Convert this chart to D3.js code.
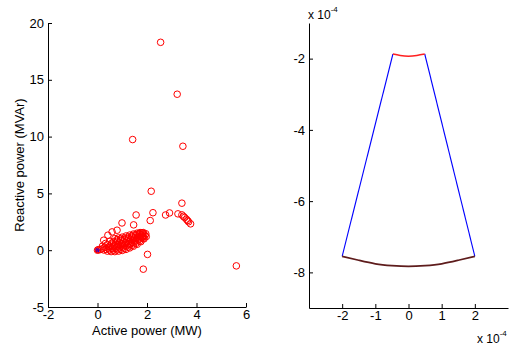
<!DOCTYPE html>
<html>
<head>
<meta charset="utf-8">
<script src="https://cdn.jsdelivr.net/npm/d3@7"></script>
<style>
  body { margin: 0; background: #fff; }
  text { font-family: "Liberation Sans", Arial, Helvetica, sans-serif; fill: #000; }
</style>
</head>
<body>
<svg id="chart" width="515" height="347"></svg>
<script>
// ---- Left panel: operating points (P in MW, Q in MVAr) ----
const activePower = [
  0.1, 0.18, 0.2,
  0.25, 0.4, 0.55, 0.7, 0.85, 1.0, 1.15, 1.3, 1.45, 1.6, 1.75, 1.88, 1.97,
  0.35, 0.5, 0.65, 0.8, 0.95, 1.1, 1.25, 1.4, 1.55, 1.7, 1.85,
  0.3, 0.45, 0.6, 0.75, 0.9, 1.05, 1.2, 1.35, 1.5, 1.65, 1.8, 1.92,
  0.48, 0.63, 0.78, 0.93, 1.08, 1.23, 1.38, 1.53, 1.68, 1.82,
  0.4, 0.55, 0.7, 0.85, 1.0, 1.15, 1.3, 1.45, 1.6, 1.75, 1.87,
  0.58, 0.73, 0.88, 1.03, 1.18, 1.33, 1.48, 1.63, 1.78,
  0.5, 0.65, 0.8, 0.95, 1.1, 1.25, 1.4, 1.55, 1.7, 1.82,
  0.78, 0.93, 1.08, 1.23, 1.38, 1.53, 1.68, 1.8,
  0.7, 0.85, 1.0, 1.15, 1.3, 1.45, 1.6, 1.72, 1.85, 1.95,
  0.32, 0.25, 0.42, 0.59, 0.79, 0.99, 1.46,
  1.56, 2.24, 2.13, 2.75, 2.91, 3.25, 3.41, 3.47, 3.52, 3.59, 3.64, 3.68, 3.76,
  2.17, 3.41, 1.42, 3.45, 3.22, 2.55, 2.02, 1.85, 5.61,
  0.03, 0.0
];
const reactivePower = [
  0.05, 0.12, 0.35,
  0.02, -0.08, -0.12, -0.12, -0.08, -0.02, 0.07, 0.2, 0.35, 0.52, 0.75, 1.0, 1.2,
  0.08, 0.02, 0.0, 0.03, 0.08, 0.16, 0.28, 0.42, 0.6, 0.8, 1.05,
  0.25, 0.18, 0.15, 0.17, 0.22, 0.3, 0.42, 0.56, 0.72, 0.9, 1.1, 1.3,
  0.32, 0.3, 0.32, 0.37, 0.45, 0.56, 0.68, 0.83, 1.0, 1.2,
  0.5, 0.45, 0.45, 0.5, 0.58, 0.68, 0.8, 0.94, 1.08, 1.25, 1.42,
  0.62, 0.6, 0.65, 0.72, 0.82, 0.94, 1.06, 1.2, 1.35,
  0.78, 0.75, 0.8, 0.87, 0.95, 1.05, 1.16, 1.28, 1.4, 1.5,
  0.92, 0.98, 1.06, 1.15, 1.25, 1.36, 1.46, 1.53,
  1.02, 1.08, 1.15, 1.25, 1.33, 1.42, 1.5, 1.55, 1.55, 1.45,
  0.59, 0.88, 1.32, 1.61, 1.76, 2.4, 2.23,
  3.1, 3.3, 2.61, 3.1, 3.28, 3.2, 3.11, 2.98, 2.88, 2.73, 2.61, 2.5, 2.32,
  5.19, 4.14, 9.74, 9.15, 13.73, 18.3, -0.37, -1.67, -1.38,
  0.04, 0.0
];
const originP = [0];
const originQ = [0];
const leftXTicks = [-2, 0, 2, 4, 6];
const leftYTicks = [-5, 0, 5, 10, 15, 20];

// ---- Right panel: sector boundary (values in units of 1e-4) ----
const innerArcX = [-0.47, -0.25, 0, 0.25, 0.49];
const innerArcY = [-1.87, -1.91, -1.93, -1.91, -1.87];
const outerArcX = [-2, -1.5, -1, -0.5, 0, 0.5, 1, 1.5, 2];
const outerArcY = [-7.55, -7.66, -7.76, -7.81, -7.83, -7.81, -7.76, -7.66, -7.55];
const leftEdgeX = [-0.47, -2];
const leftEdgeY = [-1.87, -7.55];
const rightEdgeX = [0.49, 2];
const rightEdgeY = [-1.87, -7.55];
const rightXTicks = [-2, -1, 0, 1, 2];
const rightYTicks = [-8, -6, -4, -2];

const svg = d3.select("#chart");
const FS = "13px";
const plain = d => String(d);   // hyphen-minus, like the original plotting tool

function styleAxis(g) {
  g.selectAll("path.domain").attr("stroke", "#000").attr("stroke-width", 1);
  g.selectAll(".tick line").attr("stroke", "#000");
  g.selectAll(".tick text").style("font-size", FS).attr("fill", "#000");
}

// ----- Left panel -----
const L = { x0: 48, x1: 246, y0: 23, y1: 307 };
const xL = d3.scaleLinear().domain([-2, 6]).range([L.x0, L.x1]);
const yL = d3.scaleLinear().domain([-5, 20]).range([L.y1, L.y0]);

svg.append("g").attr("transform", `translate(0,${L.y1})`)
  .call(d3.axisBottom(xL).tickValues(leftXTicks).tickFormat(plain)
    .tickSizeInner(-4).tickSizeOuter(0).tickPadding(3))
  .call(styleAxis);
svg.append("g").attr("transform", `translate(${L.x0},0)`)
  .call(d3.axisLeft(yL).tickValues(leftYTicks).tickFormat(plain)
    .tickSizeInner(-4).tickSizeOuter(0).tickPadding(4))
  .call(styleAxis);

svg.append("text")
  .attr("x", (L.x0 + L.x1) / 2).attr("y", 335)
  .attr("text-anchor", "middle").style("font-size", FS)
  .text("Active power (MW)");
svg.append("text")
  .attr("transform", `translate(24,${(L.y0 + L.y1) / 2}) rotate(-90)`)
  .attr("text-anchor", "middle").style("font-size", FS)
  .text("Reactive power (MVAr)");

const pts = svg.append("g");
pts.selectAll("circle.origin").data(originP).join("circle")
  .attr("class", "origin")
  .attr("cx", (d, i) => xL(d)).attr("cy", (d, i) => yL(originQ[i]))
  .attr("r", 2).attr("fill", "#0000ff").attr("stroke", "#0000ff").attr("stroke-width", 1);
pts.selectAll("circle.pt").data(activePower).join("circle")
  .attr("class", "pt")
  .attr("cx", d => xL(d)).attr("cy", (d, i) => yL(reactivePower[i]))
  .attr("r", 3.3).attr("fill", "none").attr("stroke", "#ff0000").attr("stroke-width", 1);

// ----- Right panel -----
const R = { x0: 309, x1: 508, y0: 23, y1: 308 };
const xR = d3.scaleLinear().domain([-3, 3]).range([R.x0, R.x1]);
const yR = d3.scaleLinear().domain([-9, -1]).range([R.y1, R.y0]);

svg.append("g").attr("transform", `translate(0,${R.y1})`)
  .call(d3.axisBottom(xR).tickValues(rightXTicks).tickFormat(plain)
    .tickSizeInner(-4).tickSizeOuter(0).tickPadding(3))
  .call(styleAxis);
svg.append("g").attr("transform", `translate(${R.x0},0)`)
  .call(d3.axisLeft(yR).tickValues(rightYTicks).tickFormat(plain)
    .tickSizeInner(-4).tickSizeOuter(0).tickPadding(4))
  .call(styleAxis);

// exponent labels
function expLabel(x, y) {
  const t = svg.append("text").attr("x", x).attr("y", y).style("font-size", "12px");
  t.append("tspan").text("x 10");
  t.append("tspan").attr("dy", -7).style("font-size", "8px").text("-4");
}
expLabel(308, 19);
expLabel(477, 343);

const lineR = (xs, ys, curve) => d3.line()
  .x((d, i) => xR(xs[i])).y((d, i) => yR(ys[i]))
  .curve(curve)(xs);

svg.append("path").attr("d", lineR(leftEdgeX, leftEdgeY, d3.curveLinear))
  .attr("fill", "none").attr("stroke", "#0000ff").attr("stroke-width", 1.1);
svg.append("path").attr("d", lineR(rightEdgeX, rightEdgeY, d3.curveLinear))
  .attr("fill", "none").attr("stroke", "#0000ff").attr("stroke-width", 1.1);
svg.append("path").attr("d", lineR(innerArcX, innerArcY, d3.curveNatural))
  .attr("fill", "none").attr("stroke", "#ff2020").attr("stroke-width", 1.5);
svg.append("path").attr("d", lineR(outerArcX, outerArcY, d3.curveNatural))
  .attr("fill", "none").attr("stroke", "#5e1c1c").attr("stroke-width", 1.7);
</script>
</body>
</html>
